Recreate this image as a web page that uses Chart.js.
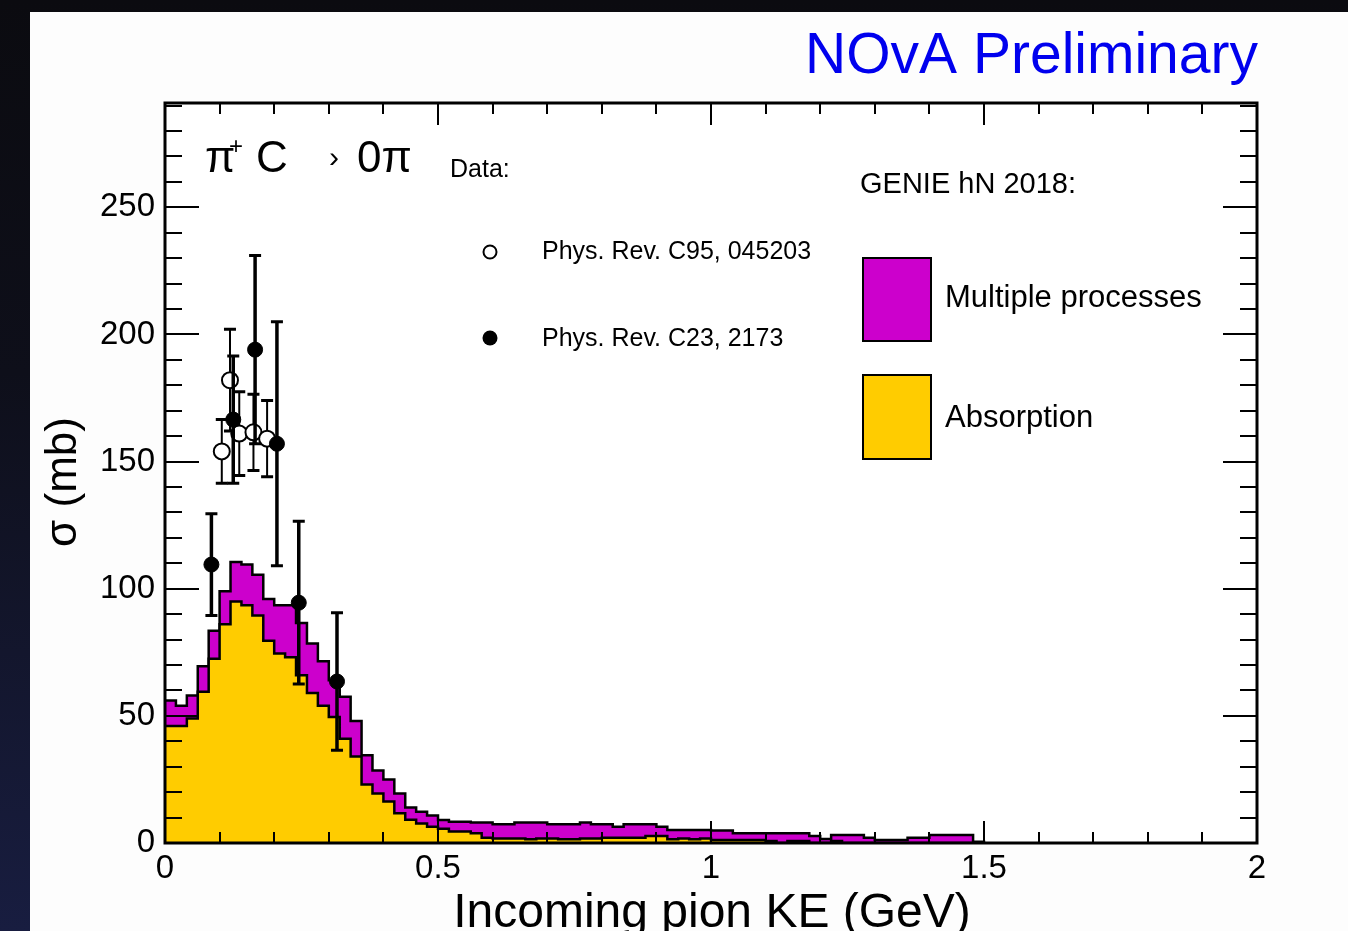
<!DOCTYPE html>
<html>
<head>
<meta charset="utf-8">
<title>pi+ C -> 0pi cross section</title>
<script src="https://cdn.jsdelivr.net/npm/chart.js@4.4.1/dist/chart.umd.min.js"></script>
<style>
  html, body { margin: 0; padding: 0; background: #0b0b10; overflow: hidden; }
  #wrap { position: relative; width: 1348px; height: 931px; }
</style>
</head>
<body>
<div id="wrap"><canvas id="xsec" width="1348" height="931"></canvas></div>
<script>
// GENIE hN 2018 histogram: 0.02 GeV bins starting at 0, values in mb
const binStart = 0;
const binWidth = 0.02;
// top of the stack (absorption + multiple processes)
const totalXsec = [
  56, 54, 58, 69.5, 83.5, 99, 110.5, 109.5, 105.5, 96,
  93.5, 93.5, 86.5, 78.5, 71.5, 64, 57.5, 48, 34.5, 28.5,
  25, 19.5, 14, 12.3, 10.8, 9, 8.4, 8.4, 8.1, 8.1,
  7.4, 7.4, 8.1, 8.1, 8.1, 7.4, 7.4, 7.4, 8.1, 7.4,
  7.4, 6.4, 7.4, 7.4, 7.4, 6.4, 5.1, 5.1, 5.1, 5.1,
  4.9, 4.9, 3.8, 3.8, 3.8, 3.8, 3.8, 3.8, 3.8, 2.8,
  1.6, 3.1, 3.1, 3.1, 2.1, 1.2, 1.2, 1.2, 2.1, 2.1,
  3.1, 3.1, 3.1, 3.1, 0.5
];
const absorptionXsec = [
  46, 46, 49, 59.5, 72.5, 86, 95, 93.5, 89.5, 79.5,
  74.5, 73, 66, 59, 54, 49.5, 41, 34, 23, 19.5,
  16.3, 11.7, 9.1, 7.7, 6.4, 5.6, 4.5, 4.5, 3.8, 2.1,
  1.8, 1.8, 1.8, 1.5, 1.8, 1.8, 1.5, 1.5, 1.8, 1.8,
  2.1, 2.1, 2.1, 2.1, 2.8, 2.8, 1.5, 1.8, 1.5, 1.8,
  1.2, 1.2, 1.2, 1.2, 1.2, 0.8, 0, 0.8, 0.8, 0,
  0, 0.8, 0, 0, 0, 0, 0, 0, 0, 0,
  0, 0, 0, 0, 0
];

// Phys. Rev. C95, 045203 (open circles)
const duetKE = [0.104, 0.119, 0.136, 0.162, 0.187];
const duetXsec = [154, 182, 161, 161.5, 159];
const duetErr = [12.5, 20, 16.5, 15, 15];

// Phys. Rev. C23, 2173 (filled circles)
const asheryKE = [0.085, 0.125, 0.165, 0.205, 0.245, 0.315];
const asheryXsec = [109.5, 166.5, 194, 157, 94.5, 63.5];
const asheryErr = [20, 25, 37, 48, 32, 27];

const xTicks = [0, 0.5, 1, 1.5, 2];
const yTicks = [0, 50, 100, 150, 200, 250];

const FONT = '"Liberation Sans", Arial, Helvetica, sans-serif';
Chart.defaults.font.family = FONT;

// histogram edges -> points for a stepped line
function histPoints(vals) {
  const pts = vals.map((v, i) => ({ x: binStart + i * binWidth, y: v }));
  pts.push({ x: binStart + vals.length * binWidth, y: 0 });
  return pts;
}

function scatterPoints(xs, ys) {
  return xs.map((x, i) => ({ x: x, y: ys[i] }));
}

// dark slide background + white panel
const backdrop = {
  id: 'backdrop',
  beforeDraw(chart) {
    const { ctx, width, height, chartArea: a } = chart;
    ctx.save();
    const g = ctx.createLinearGradient(0, 0, 0, height);
    g.addColorStop(0, '#0b0b10');
    g.addColorStop(0.4, '#0e0f1a');
    g.addColorStop(1, '#181d40');
    ctx.fillStyle = g;
    ctx.fillRect(0, 0, width, height);
    ctx.fillStyle = '#fdfdfd';
    ctx.fillRect(30, 12, width - 30, height - 12);
    ctx.fillStyle = '#ffffff';
    ctx.fillRect(a.left, a.top, a.right - a.left, a.bottom - a.top);
    ctx.restore();
  }
};

// vertical error bars, drawn right before the markers of the same dataset
const errorBars = {
  id: 'errorBars',
  beforeDatasetDraw(chart, args) {
    const ds = chart.data.datasets[args.index];
    if (!ds.errors) return;
    const { ctx, scales: { x, y } } = chart;
    ctx.save();
    ctx.strokeStyle = '#000';
    ds.data.forEach((p, i) => {
      const px = x.getPixelForValue(p.x);
      const top = y.getPixelForValue(p.y + ds.errors[i]);
      const bot = y.getPixelForValue(p.y - ds.errors[i]);
      ctx.lineWidth = ds.errorWidth;
      ctx.beginPath();
      ctx.moveTo(px, top);
      ctx.lineTo(px, bot);
      ctx.stroke();
      ctx.lineWidth = 3;
      ctx.beginPath();
      ctx.moveTo(px - 6, top);
      ctx.lineTo(px + 6, top);
      ctx.moveTo(px - 6, bot);
      ctx.lineTo(px + 6, bot);
      ctx.stroke();
    });
    ctx.restore();
  }
};

// ROOT style frame with inward ticks on all four sides
const rootFrame = {
  id: 'rootFrame',
  afterDatasetsDraw(chart) {
    const { ctx, chartArea: a, scales: { x, y } } = chart;
    ctx.save();
    ctx.strokeStyle = '#000';
    ctx.lineWidth = 2;
    ctx.beginPath();
    for (let i = 0; i <= 20; i++) {
      const px = Math.round(x.getPixelForValue(i / 10));
      const len = i % 5 === 0 ? 22 : 11;
      ctx.moveTo(px, a.bottom);
      ctx.lineTo(px, a.bottom - len);
      ctx.moveTo(px, a.top);
      ctx.lineTo(px, a.top + len);
    }
    for (let v = 0; v <= 290; v += 10) {
      const py = Math.round(y.getPixelForValue(v));
      const len = v % 50 === 0 ? 34 : 17;
      ctx.moveTo(a.left, py);
      ctx.lineTo(a.left + len, py);
      ctx.moveTo(a.right, py);
      ctx.lineTo(a.right - len, py);
    }
    ctx.stroke();
    ctx.lineWidth = 3;
    ctx.strokeRect(a.left, a.top, a.right - a.left, a.bottom - a.top);
    ctx.restore();
  }
};

// titles, reaction label and the two legends
const annotations = {
  id: 'annotations',
  afterDraw(chart) {
    const ctx = chart.ctx;
    ctx.save();
    ctx.textBaseline = 'alphabetic';

    ctx.fillStyle = '#0000ee';
    ctx.font = '57px ' + FONT;
    ctx.textAlign = 'right';
    ctx.fillText('NOvA Preliminary', 1258, 73);

    ctx.fillStyle = '#000';
    ctx.textAlign = 'center';
    ctx.font = '48px ' + FONT;
    ctx.fillText('Incoming pion KE (GeV)', 712, 927);

    ctx.save();
    ctx.translate(76, 482);
    ctx.rotate(-Math.PI / 2);
    ctx.font = '44px ' + FONT;
    ctx.fillText('σ (mb)', 0, 0);
    ctx.restore();

    // reaction label
    ctx.textAlign = 'left';
    ctx.font = '44px ' + FONT;
    ctx.fillText('π', 205, 172);
    ctx.fillText('C', 256, 172);
    ctx.fillText('0π', 357, 172);
    ctx.font = '24px ' + FONT;
    ctx.fillText('+', 229, 154);
    ctx.font = '30px ' + FONT;
    ctx.fillText('›', 329, 167);

    // data legend
    ctx.font = '25px ' + FONT;
    ctx.fillText('Data:', 450, 177);
    ctx.fillText('Phys. Rev. C95, 045203', 542, 259);
    ctx.fillText('Phys. Rev. C23, 2173', 542, 346);
    ctx.lineWidth = 2;
    ctx.strokeStyle = '#000';
    ctx.beginPath();
    ctx.arc(490, 252, 6.5, 0, Math.PI * 2);
    ctx.fillStyle = '#fff';
    ctx.fill();
    ctx.stroke();
    ctx.beginPath();
    ctx.arc(490, 338, 7.5, 0, Math.PI * 2);
    ctx.fillStyle = '#000';
    ctx.fill();

    // GENIE legend
    ctx.font = '29px ' + FONT;
    ctx.fillText('GENIE hN 2018:', 860, 193);
    ctx.fillStyle = '#cc00cc';
    ctx.fillRect(863, 258, 68, 83);
    ctx.strokeRect(863, 258, 68, 83);
    ctx.fillStyle = '#ffcc00';
    ctx.fillRect(863, 375, 68, 84);
    ctx.strokeRect(863, 375, 68, 84);
    ctx.fillStyle = '#000';
    ctx.font = '31px ' + FONT;
    ctx.fillText('Multiple processes', 945, 307);
    ctx.fillText('Absorption', 945, 427);
    ctx.restore();
  }
};

new Chart(document.getElementById('xsec'), {
  type: 'line',
  data: {
    datasets: [
      {
        label: 'Multiple processes',
        data: histPoints(totalXsec),
        stepped: 'before',
        fill: 'origin',
        backgroundColor: '#cc00cc',
        borderColor: '#000',
        borderWidth: 2.5,
        pointRadius: 0,
        order: 3
      },
      {
        label: 'Absorption',
        data: histPoints(absorptionXsec),
        stepped: 'before',
        fill: 'origin',
        backgroundColor: '#ffcc00',
        borderColor: '#000',
        borderWidth: 2.5,
        pointRadius: 0,
        order: 2
      },
      {
        type: 'scatter',
        label: 'Phys. Rev. C95, 045203',
        data: scatterPoints(duetKE, duetXsec),
        errors: duetErr,
        errorWidth: 2,
        pointStyle: 'circle',
        pointRadius: 8,
        backgroundColor: '#fff',
        borderColor: '#000',
        borderWidth: 2,
        order: 1
      },
      {
        type: 'scatter',
        label: 'Phys. Rev. C23, 2173',
        data: scatterPoints(asheryKE, asheryXsec),
        errors: asheryErr,
        errorWidth: 3.5,
        pointStyle: 'circle',
        pointRadius: 7.5,
        backgroundColor: '#000',
        borderColor: '#000',
        borderWidth: 1,
        order: 0
      }
    ]
  },
  options: {
    responsive: false,
    animation: false,
    devicePixelRatio: 1,
    events: [],
    layout: { padding: { left: 30, right: 91, top: 103, bottom: 0 } },
    plugins: { legend: { display: false }, tooltip: { enabled: false } },
    scales: {
      x: {
        type: 'linear',
        min: 0,
        max: 2,
        afterFit: s => { s.height = 88; },
        afterBuildTicks: s => { s.ticks = xTicks.map(v => ({ value: v })); },
        grid: { display: false, drawTicks: false },
        border: { display: false },
        ticks: {
          color: '#000',
          font: { size: 33 },
          padding: 6,
          maxRotation: 0,
          autoSkip: false,
          callback: v => String(v)
        }
      },
      y: {
        type: 'linear',
        min: 0,
        max: 291,
        afterFit: s => { s.width = 135; },
        afterBuildTicks: s => { s.ticks = yTicks.map(v => ({ value: v })); },
        grid: { display: false, drawTicks: false },
        border: { display: false },
        ticks: {
          color: '#000',
          font: { size: 33 },
          padding: 10,
          autoSkip: false,
          callback: v => String(v)
        }
      }
    }
  },
  plugins: [backdrop, errorBars, rootFrame, annotations]
});
</script>
</body>
</html>
